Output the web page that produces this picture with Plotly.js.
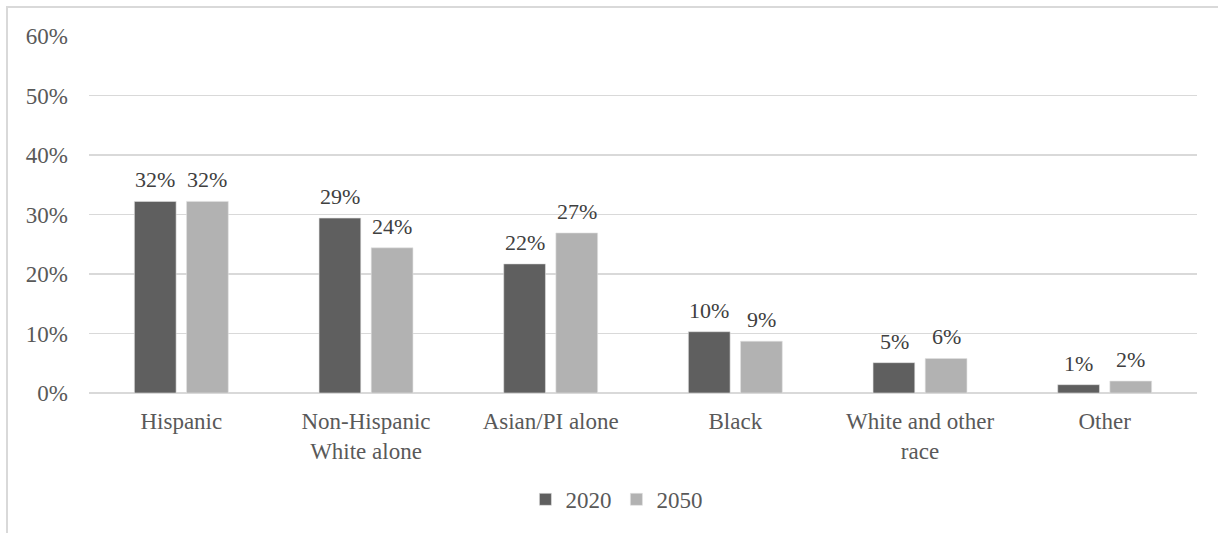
<!DOCTYPE html>
<html>
<head>
<meta charset="utf-8">
<script src="https://cdn.plot.ly/plotly-3.0.1.min.js"></script>
<style>
  html, body { margin: 0; padding: 0; background: #fff; }
  #frame { position: absolute; left: 6px; top: 6px; width: 1230px; height: 540px;
           border-left: 2px solid #d9d9d9; border-top: 2px solid #d9d9d9; box-sizing: border-box; }
  #chart { position: absolute; left: 0; top: 0; width: 1218px; height: 533px; }
</style>
</head>
<body>
<div id="frame"></div>
<div id="chart"></div>
<script>
const categories = ["Hispanic", "Non-Hispanic<br>White alone", "Asian/PI alone", "Black", "White and other<br>race", "Other"];
const values2020 = [32.2, 29.4, 21.7, 10.3, 5.1, 1.4];
const values2050 = [32.2, 24.4, 26.9, 8.7, 5.8, 2.0];
const seriesNames = ["2020", "2050"];
const yTicks = [0, 10, 20, 30, 40, 50, 60];

const FONT = "'Liberation Serif', 'Times New Roman', serif";

function barTrace(name, vals, color) {
  return {
    type: "bar",
    name: name,
    x: categories,
    y: vals,
    marker: { color: color, line: { color: "#e0e0e0", width: 0.6 } },
    hoverinfo: "skip"
  };
}

const data = [
  barTrace(seriesNames[0], values2020, "#5f5f5f"),
  barTrace(seriesNames[1], values2050, "#b2b2b2")
];

// data labels placed from the data values (offset left/right for each series in the group)
const annotations = [];
[[values2020, -26], [values2050, 26]].forEach(([vals, dx]) => {
  vals.forEach((v, i) => {
    annotations.push({
      x: categories[i], y: v, xref: "x", yref: "y",
      text: Math.round(v) + "%",
      showarrow: false, yanchor: "bottom",
      xshift: dx, yshift: 7,
      font: { family: FONT, size: 22, color: "#404040" }
    });
  });
});

const layout = {
  width: 1218,
  height: 533,
  margin: { l: 89, r: 21, t: 36, b: 139.5 },
  paper_bgcolor: "rgba(0,0,0,0)",
  plot_bgcolor: "rgba(0,0,0,0)",
  font: { family: FONT, size: 23, color: "#595959" },
  barmode: "group",
  bargap: 0.435,
  bargroupgap: 0.2,
  showlegend: true,
  annotations: annotations,
  legend: {
    orientation: "h",
    x: 0.476, xanchor: "center",
    y: -0.298, yanchor: "middle",
    font: { family: FONT, size: 23, color: "#595959" },
    itemclick: false, itemdoubleclick: false
  },
  xaxis: {
    type: "category",
    showgrid: false,
    showline: false,
    zeroline: false,
    ticks: "",
    tickfont: { family: FONT, size: 23, color: "#595959" },
    ticklabelstandoff: 12
  },
  yaxis: {
    range: [0, 60],
    tickvals: yTicks,
    ticktext: yTicks.map(v => v + "%"),
    showgrid: true,
    gridcolor: "#d9d9d9",
    gridwidth: 1.5,
    zeroline: true,
    zerolinecolor: "#d9d9d9",
    zerolinewidth: 1.5,
    showline: false,
    ticks: "",
    tickfont: { family: FONT, size: 23, color: "#595959" },
    ticklabelstandoff: 20
  }
};

Plotly.newPlot("chart", data, layout, { staticPlot: true, displayModeBar: false });
</script>
</body>
</html>
